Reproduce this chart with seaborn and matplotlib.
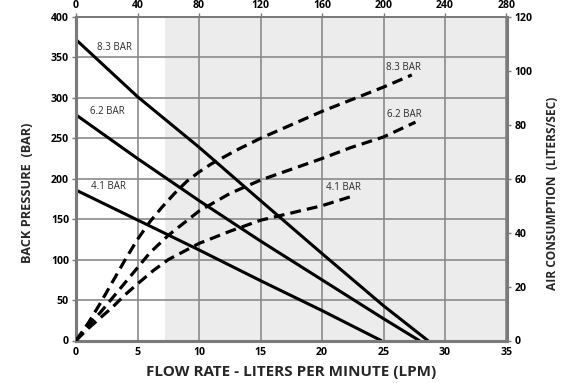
import matplotlib
matplotlib.use("Agg")
import matplotlib.pyplot as plt
import numpy as np
import pandas as pd
import seaborn as sns

# ---- data ----
flow_ticks = [0, 5, 10, 15, 20, 25, 30, 35]
top_ticks = [0, 40, 80, 120, 160, 200, 240, 280]
pressure_ticks = [0, 50, 100, 150, 200, 250, 300, 350, 400]
air_ticks = [0, 20, 40, 60, 80, 100, 120]

# back pressure (BAR) vs flow (LPM) - solid lines, left axis
bp83_flow = [0, 5, 10, 15, 20, 25, 28.6]
bp83_val = [372, 301.5, 239, 173, 107.5, 43, 0]
bp62_flow = [0, 5, 10, 15, 20, 25, 27.9]
bp62_val = [279, 225, 173, 123, 75, 27, 0]
bp41_flow = [0, 5, 10, 15, 20, 24.8]
bp41_val = [186, 149, 112, 74, 37, 0]

# air consumption (liters/sec) vs flow (LPM) - dashed lines, right axis
air83_flow = [0, 1, 2, 3, 4, 5, 6, 7, 8, 9, 10, 11, 13, 15, 20, 25, 27.3]
air83_val = [0, 6.5, 14, 22, 30, 37.5, 44, 49.5, 54.5, 59, 62.5, 65.5, 70.5, 75, 85, 94, 98.5]
air62_flow = [0, 1, 2, 3, 4, 5, 6, 7.5, 10, 12.5, 15, 20, 22.3, 25, 27.6]
air62_val = [0, 5.5, 10.5, 16, 21.5, 27, 32.5, 39, 48, 54.5, 59.5, 67.5, 71.5, 75.5, 81]
air41_flow = [0, 1, 2, 3, 4, 5, 6.3, 7.5, 10, 12.5, 15, 20, 22.3]
air41_val = [0, 4.5, 8.5, 12.5, 17, 21, 26, 30, 36, 40.5, 44.6, 50, 53.3]

series_labels = ["8.3 BAR", "6.2 BAR", "4.1 BAR"]
shade_start = 7.25

bp = pd.concat([
    pd.DataFrame({"flow": bp83_flow, "value": bp83_val, "series": "8.3 BAR"}),
    pd.DataFrame({"flow": bp62_flow, "value": bp62_val, "series": "6.2 BAR"}),
    pd.DataFrame({"flow": bp41_flow, "value": bp41_val, "series": "4.1 BAR"}),
])
air = pd.concat([
    pd.DataFrame({"flow": air83_flow, "value": air83_val, "series": "8.3 BAR"}),
    pd.DataFrame({"flow": air62_flow, "value": air62_val, "series": "6.2 BAR"}),
    pd.DataFrame({"flow": air41_flow, "value": air41_val, "series": "4.1 BAR"}),
])

sns.set_theme(style="white")
plt.rcParams["font.family"] = ["Open Sans", "DejaVu Sans"]

fig = plt.figure(figsize=(5.64, 3.83), dpi=100)
ax = fig.add_axes([76 / 564, 1 - 340.5 / 383, 430.5 / 564, 323.5 / 383])

grid_c = "#8a8a8a"
spine_c = "#7a7a7a"

ax.axvspan(shade_start, 35, color="#ececec", zorder=0, lw=0)
ax.set_xlim(0, 35)
ax.set_ylim(0, 400)
ax.set_xticks(flow_ticks)
ax.set_yticks(pressure_ticks)
ax.grid(True, color=grid_c, lw=1.2, zorder=1)
ax.set_axisbelow(True)

sns.lineplot(data=bp, x="flow", y="value", units="series", estimator=None,
             sort=False, color="black", lw=2.2, ax=ax, zorder=3)

ax2 = ax.twinx()
ax2.set_ylim(0, 120)
ax2.set_yticks(air_ticks)
sns.lineplot(data=air, x="flow", y="value", units="series", estimator=None,
             sort=False, color="black", lw=2.3, ax=ax2,
             linestyle=(0, (3.4, 1.9)), zorder=3)

for a in (ax, ax2):
    for s in a.spines.values():
        s.set_color(spine_c)
    a.spines["left"].set_linewidth(2.2)
    a.spines["bottom"].set_linewidth(2.2)
    a.spines["right"].set_linewidth(2.2)
    a.spines["top"].set_linewidth(1.4)

tick_kw = dict(labelsize=7.6, colors=spine_c, labelcolor="black", length=3, width=1, direction="out")
ax.tick_params(axis="both", **tick_kw, pad=2)
ax2.tick_params(axis="y", **tick_kw, pad=3)
for lab in ax.get_xticklabels() + ax.get_yticklabels() + ax2.get_yticklabels():
    lab.set_fontweight("bold")

sec = ax.secondary_xaxis("top", functions=(lambda x: x * 8, lambda x: x / 8))
sec.set_xticks(top_ticks)
sec.tick_params(axis="x", **tick_kw, pad=1)
sec.spines["top"].set_color(spine_c)
for lab in sec.get_xticklabels():
    lab.set_fontweight("bold")

ax.set_xlabel("FLOW RATE - LITERS PER MINUTE (LPM)", fontsize=11, fontweight="bold", labelpad=5)
ax.set_ylabel("BACK PRESSURE  (BAR)", fontsize=9.2, fontweight="bold")
ax2.set_ylabel("AIR CONSUMPTION  (LITERS/SEC)", fontsize=8.6, fontweight="bold")
ax.yaxis.set_label_coords(-0.098, 0.455)
ax2.yaxis.set_label_coords(1.091, 0.455)

txt_c = "#2a2a2a"
# labels for solid lines (left axis)
for (x, y), lab in zip([(3.09, 362), (2.58, 283.6), (2.67, 190.7)], series_labels):
    ax.text(x, y, lab, fontsize=7, color=txt_c, ha="center", va="center", zorder=4)
# labels for dashed lines (right axis)
for (x, y), lab in zip([(26.6, 101.2), (26.7, 84), (21.75, 56.6)], series_labels):
    ax2.text(x, y, lab, fontsize=7, color=txt_c, ha="center", va="center", zorder=4)

fig.savefig("out.png", dpi=100)
